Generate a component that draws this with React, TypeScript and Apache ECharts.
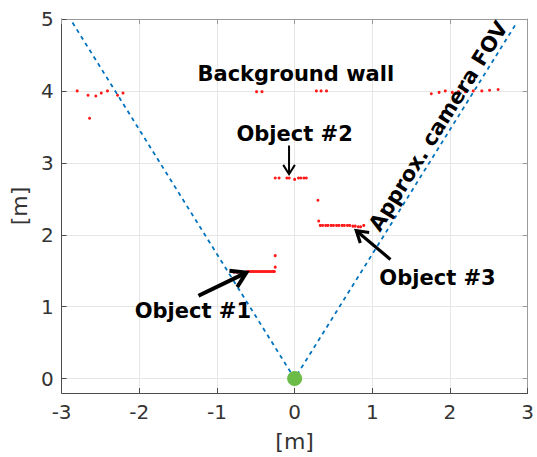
import React, { useEffect, useRef } from "react";
import * as echarts from "echarts";

// ---- data ----
const wallX = [-2.80, -2.66, -2.64, -2.56, -2.49, -2.41, -2.28, -2.21, -0.49, -0.42, 0.28, 0.34, 0.41, 1.76, 1.86, 1.94, 2.03, 2.11, 2.20, 2.30, 2.41, 2.51, 2.62];
const wallY = [4.00, 3.94, 3.62, 3.93, 3.97, 4.00, 3.94, 3.97, 3.99, 3.99, 4.00, 4.00, 4.00, 3.96, 3.98, 4.00, 3.98, 3.99, 3.99, 4.00, 4.00, 4.01, 4.02];

const obj1X = [-0.78, -0.74, -0.67, -0.61, -0.59, -0.57, -0.55, -0.53, -0.51, -0.49, -0.47, -0.45, -0.43, -0.41, -0.39, -0.37, -0.35, -0.33, -0.31, -0.29, -0.27, -0.26, -0.25, -0.25];
const obj1Y = [1.48, 1.48, 1.48, 1.49, 1.49, 1.49, 1.49, 1.49, 1.49, 1.49, 1.49, 1.49, 1.49, 1.49, 1.49, 1.49, 1.49, 1.49, 1.49, 1.49, 1.49, 1.49, 1.55, 1.71];

const obj2X = [-0.25, -0.20, -0.10, -0.07, 0.00, 0.05, 0.08, 0.12, 0.15];
const obj2Y = [2.79, 2.79, 2.79, 2.79, 2.77, 2.79, 2.79, 2.79, 2.79];

const obj3X = [0.30, 0.31, 0.33, 0.36, 0.40, 0.43, 0.47, 0.50, 0.54, 0.57, 0.61, 0.64, 0.68, 0.71, 0.75, 0.78, 0.82, 0.85, 0.89];
const obj3Y = [2.48, 2.19, 2.13, 2.13, 2.13, 2.13, 2.13, 2.13, 2.13, 2.13, 2.13, 2.13, 2.13, 2.13, 2.12, 2.12, 2.11, 2.11, 2.13];

const fovX = [-2.86, 0, 2.86];
const fovY = [4.95, 0, 4.95];

const cameraPos = [0, 0];

const xTicks = [-3, -2, -1, 0, 1, 2, 3];
const yTicks = [0, 1, 2, 3, 4, 5];

const labels = [
  { text: "Background wall", x: 0.015, y: 4.236, rotate: 0 },
  { text: "Object #2", x: 0.0, y: 3.395, rotate: 0 },
  { text: "Object #1", x: -1.31, y: 0.937, rotate: 0 },
  { text: "Object #3", x: 1.84, y: 1.398, rotate: 0 },
  { text: "Approx. camera FOV", x: 1.85, y: 3.51, rotate: 58 },
];

// arrows: tail x, tail y, tip x, tip y
const arrows = [
  [-1.238, 1.153, -0.622, 1.474],
  [-0.072, 3.241, -0.072, 2.842],
  [1.234, 1.657, 0.794, 2.057],
];
const arrowWidths = [4, 2, 3.2];
const arrowHeads = [17, 11, 13];

const zip = (a: number[], b: number[]) => a.map((v, i) => [v, b[i]]);

const FONT = "DejaVu Sans";

export default function App() {
  const ref = useRef<HTMLDivElement>(null);
  useEffect(() => {
    if (!ref.current) return;
    const chart = echarts.init(ref.current, undefined, { renderer: "svg" });
    const axisDark = "#4d4d4d";
    const axisLight = "#9a9a9a";
    const redPts = {
      type: "scatter",
      symbol: "circle",
      symbolSize: 3,
      itemStyle: { color: "#ff1a1a", opacity: 1 },
      z: 3,
    };
    chart.setOption({
      animation: false,
      grid: { left: 61, right: 7, top: 19, bottom: 60.5, containLabel: false },
      xAxis: [
        {
          type: "value",
          min: -3,
          max: 3,
          interval: 1,
          position: "bottom",
          axisLine: { show: true, onZero: false, lineStyle: { color: axisDark, width: 1 } },
          axisTick: { show: true, inside: true, length: 5, lineStyle: { color: axisDark } },
          axisLabel: { fontSize: 20, color: "#333", margin: 9, fontFamily: FONT,
            formatter: (v: number) => (xTicks.includes(v) ? String(v) : "") },
          splitLine: { show: true, lineStyle: { color: "#e6e6e6", width: 1 } },
          name: "[m]",
          nameLocation: "middle",
          nameGap: 37,
          nameTextStyle: { fontSize: 22, color: "#333", fontFamily: FONT },
        },
        {
          type: "value",
          min: -3,
          max: 3,
          interval: 1,
          position: "top",
          axisLine: { show: true, onZero: false, lineStyle: { color: axisLight, width: 1 } },
          axisTick: { show: true, inside: true, length: 5, lineStyle: { color: axisLight } },
          axisLabel: { show: false },
          splitLine: { show: false },
        },
      ],
      yAxis: [
        {
          type: "value",
          min: -0.2,
          max: 5,
          splitNumber: 5,
          position: "left",
          axisLine: { show: true, onZero: false, lineStyle: { color: axisDark, width: 1 } },
          axisTick: { show: true, inside: true, length: 5, lineStyle: { color: axisDark }, customValues: yTicks },
          axisLabel: { fontSize: 20, color: "#333", margin: 8, fontFamily: FONT, customValues: yTicks },
          splitLine: { show: true, lineStyle: { color: "#e6e6e6", width: 1 } },
          name: "[m]",
          nameLocation: "middle",
          nameGap: 24,
          nameRotate: 90,
          nameTextStyle: { fontSize: 22, color: "#333", fontFamily: FONT },
        },
        {
          type: "value",
          min: -0.2,
          max: 5,
          splitNumber: 5,
          position: "right",
          axisLine: { show: true, onZero: false, lineStyle: { color: axisLight, width: 1 } },
          axisTick: { show: true, inside: true, length: 5, lineStyle: { color: axisLight }, customValues: yTicks },
          axisLabel: { show: false },
          splitLine: { show: false },
        },
      ],
      series: [
        {
          type: "line",
          data: zip(fovX, fovY),
          showSymbol: false,
          symbol: "none",
          lineStyle: { color: "#0072BD", width: 1.8, type: [4, 4] },
          z: 2,
        },
        { ...redPts, data: zip(wallX, wallY) },
        { ...redPts, data: zip(obj1X, obj1Y) },
        { ...redPts, data: zip(obj2X, obj2Y) },
        { ...redPts, data: zip(obj3X, obj3Y) },
        {
          type: "scatter",
          data: [cameraPos],
          symbolSize: 15,
          itemStyle: { color: "#6dbb47", opacity: 1 },
          z: 4,
        },
        {
          type: "custom",
          data: arrows,
          z: 5,
          renderItem: (params: any, api: any) => {
            const i = params.dataIndex;
            const p1 = api.coord([api.value(0), api.value(1)]);
            const p2 = api.coord([api.value(2), api.value(3)]);
            const ang = Math.atan2(p2[1] - p1[1], p2[0] - p1[0]);
            const L = arrowHeads[i];
            const a = (32 * Math.PI) / 180;
            const h1 = [p2[0] - L * Math.cos(ang - a), p2[1] - L * Math.sin(ang - a)];
            const h2 = [p2[0] - L * Math.cos(ang + a), p2[1] - L * Math.sin(ang + a)];
            const w = arrowWidths[i];
            return {
              type: "group",
              children: [
                { type: "line", shape: { x1: p1[0], y1: p1[1], x2: p2[0], y2: p2[1] }, style: { stroke: "#000", lineWidth: w } },
                { type: "polyline", shape: { points: [h1, p2, h2] }, style: { stroke: "#000", lineWidth: w, fill: null, lineJoin: "miter" } },
              ],
            };
          },
        },
        {
          type: "scatter",
          symbolSize: 0,
          z: 6,
          itemStyle: { opacity: 1 },
          data: labels.map((l) => ({
            name: l.text,
            value: [l.x, l.y],
            label: { rotate: l.rotate },
          })),
          label: {
            show: true,
            position: "inside",
            formatter: (p: any) => p.name,
            fontFamily: FONT,
            fontWeight: "bold",
            fontSize: 21,
            color: "#000",
            opacity: 1,
            textBorderWidth: 0,
            textBorderColor: "transparent",
            align: "center",
            verticalAlign: "middle",
          },
        },
      ],
    });
    return () => chart.dispose();
  }, []);
  return (
    <div
      ref={ref}
      style={{ position: "absolute", left: 0, top: 0, width: 537, height: 457 }}
    />
  );
}
